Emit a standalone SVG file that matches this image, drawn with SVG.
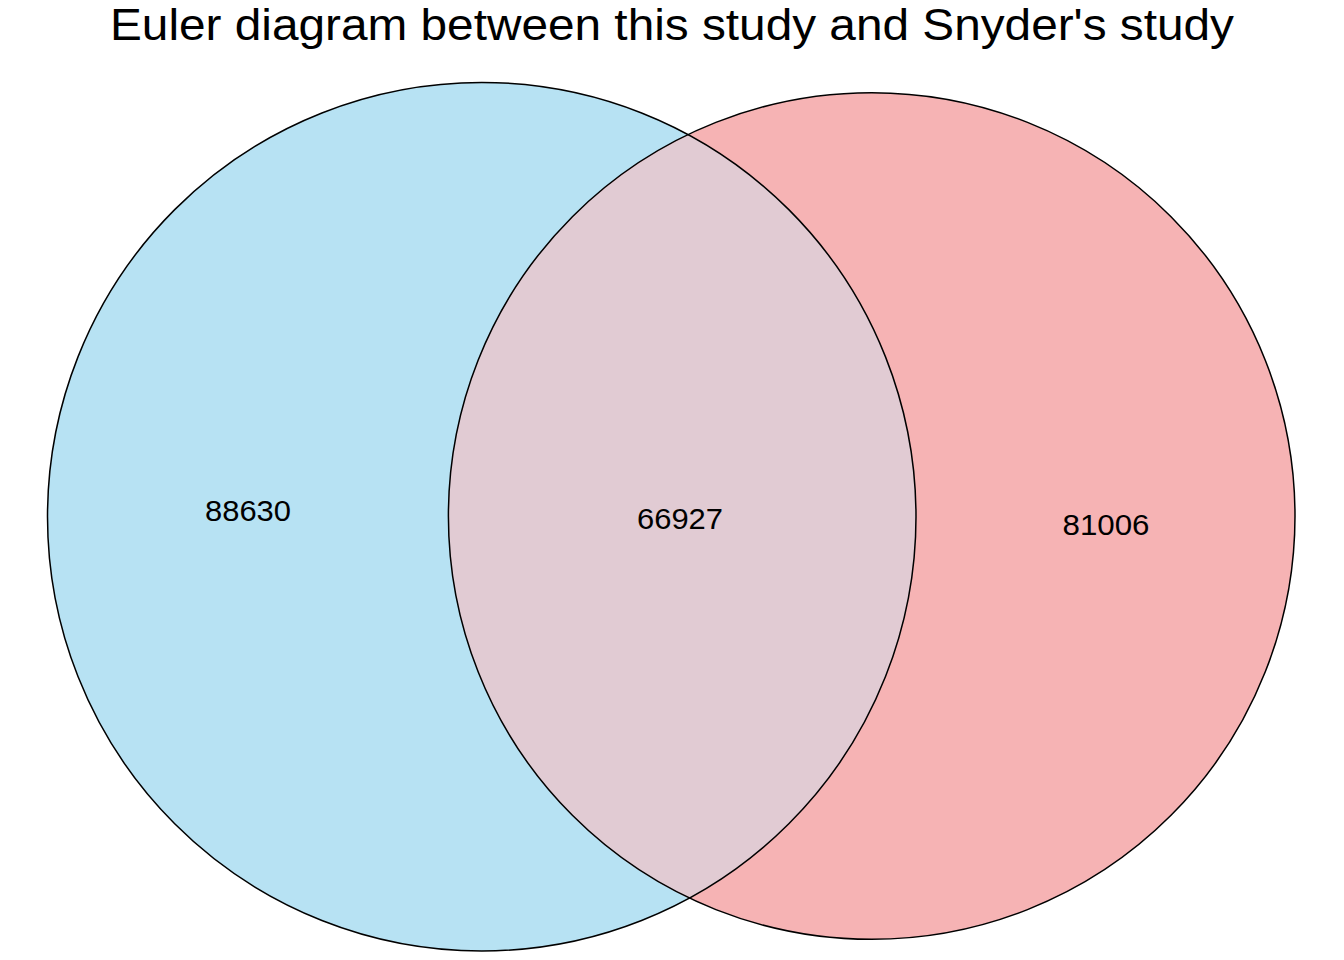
<svg xmlns="http://www.w3.org/2000/svg" width="1344" height="960" viewBox="0 0 1344 960">
<style>
.title{font-family:"Liberation Sans",Arial,sans-serif;font-size:45px;fill:#000}
.lbl{font-family:"Liberation Sans",Arial,sans-serif;font-size:29px;fill:#000;text-anchor:middle}
.edge{fill:none;stroke:#000;stroke-width:1.5}
</style>
<rect width="1344" height="960" fill="#fff"/>
<text class="title" x="672" y="40" text-anchor="middle" textLength="1124" lengthAdjust="spacingAndGlyphs">Euler diagram between this study and Snyder's study</text>
<g id="setA"><circle cx="481.75" cy="516.7" r="434.25" fill="#b7e2f3"/></g>
<g id="setB"><circle cx="871.7" cy="516" r="423.3" fill="#f6b3b4"/></g>
<g id="overlap"><path d="M688.8 135 A423.3 423.3 0 0 0 688.8 898.4 A434.25 434.25 0 0 0 688.8 135 Z" fill="#e1cbd3"/></g>
<g id="outlines">
<circle class="edge" cx="481.75" cy="516.7" r="434.25"/>
<circle class="edge" cx="871.7" cy="516" r="423.3"/>
</g>
<g id="labels">
<text class="lbl" x="248" y="521" textLength="86" lengthAdjust="spacingAndGlyphs">88630</text>
<text class="lbl" x="680" y="529" textLength="86" lengthAdjust="spacingAndGlyphs">66927</text>
<text class="lbl" x="1106" y="535" textLength="87" lengthAdjust="spacingAndGlyphs">81006</text>
</g>
</svg>
